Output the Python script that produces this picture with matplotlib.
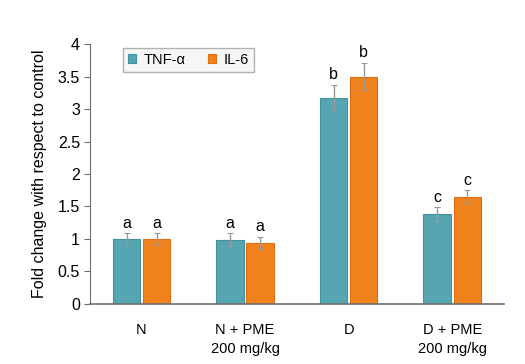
import numpy as np
import matplotlib.pyplot as plt

plt.rcParams['font.family'] = ['Liberation Sans', 'DejaVu Sans']

groups = ['N', 'N + PME\n200 mg/kg', 'D', 'D + PME\n200 mg/kg']
tnf = [1.0, 0.99, 3.17, 1.38]
tnf_err = [0.09, 0.1, 0.2, 0.11]
il6 = [1.0, 0.94, 3.50, 1.65]
il6_err = [0.09, 0.09, 0.21, 0.1]
tnf_lbl = ['a', 'a', 'b', 'c']
il6_lbl = ['a', 'a', 'b', 'c']

teal = '#55a6b2'
orange = '#f0821e'
grey = '#6f6f6f'

fig = plt.figure(figsize=(5.25, 3.64), dpi=100)
ax = fig.add_axes([0.171, 0.165, 0.789, 0.714])

x = np.arange(len(groups))
w = 0.265
off = 0.145
ekw = dict(ecolor='#999999', elinewidth=1.0, capsize=2, capthick=0.8)
ax.bar(x - off, tnf, w, color=teal, edgecolor='#3f929e', linewidth=0.8,
       yerr=tnf_err, error_kw=ekw, label='TNF-α')
ax.bar(x + off, il6, w, color=orange, edgecolor='#e06f10', linewidth=0.8,
       yerr=il6_err, error_kw=ekw, label='IL-6')

for i in range(len(groups)):
    ax.text(x[i] - off, tnf[i] + tnf_err[i] + 0.04, tnf_lbl[i], ha='center',
            va='bottom', fontsize=11.5)
    ax.text(x[i] + off, il6[i] + il6_err[i] + 0.04, il6_lbl[i], ha='center',
            va='bottom', fontsize=11.5)

ax.set_xlim(-0.5, 3.5)
ax.set_ylim(0, 4)
ax.set_yticks(np.arange(0, 4.01, 0.5))
ax.set_yticklabels(['0', '0.5', '1', '1.5', '2', '2.5', '3', '3.5', '4'])
ax.set_xticks(x)
ax.set_xticklabels(groups, fontsize=10.5, linespacing=1.4)
ax.tick_params(axis='x', length=0, pad=14)
ax.tick_params(axis='y', labelsize=11.5, length=4, color=grey, pad=3)
for s in ['top', 'right']:
    ax.spines[s].set_visible(False)
ax.spines['left'].set_color(grey)
ax.spines['bottom'].set_color(grey)
ax.spines['bottom'].set_linewidth(1.2)
ax.set_ylabel('Fold change with respect to control', fontsize=11.5, labelpad=8)

leg = ax.legend(loc='upper left', bbox_to_anchor=(0.08, 0.985), ncol=2,
                frameon=True, fancybox=False, fontsize=10.5, handlelength=0.55,
                handleheight=0.55, columnspacing=1.5, borderpad=0.35,
                handletextpad=0.55, borderaxespad=0)
leg.get_frame().set_edgecolor('#a0a0a0')
leg.get_frame().set_facecolor('#f4f4f4')

fig.savefig('out.png', dpi=100)
